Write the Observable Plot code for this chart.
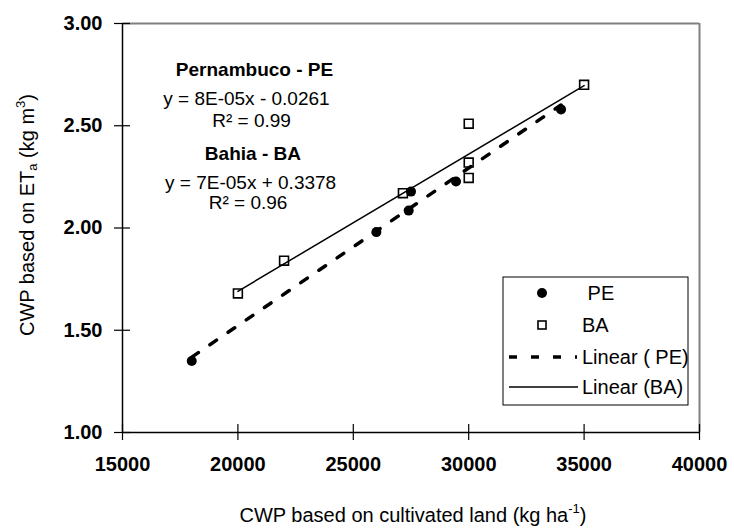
<!DOCTYPE html>
<html>
<head>
<meta charset="utf-8">
<script src="https://cdn.jsdelivr.net/npm/d3@7"></script>
<script src="https://cdn.jsdelivr.net/npm/@observablehq/plot@0.6"></script>
<style>
  html, body { margin: 0; padding: 0; background: #fff; }
  #chart { width: 734px; height: 531px; }
</style>
</head>
<body>
<div id="chart"></div>
<script>
// ---- Data ----
const peX = [18000, 26000, 27400, 27500, 29450, 34000];
const peY = [1.35, 1.98, 2.085, 2.178, 2.227, 2.58];
const baX = [20000, 22000, 27150, 30000, 30000, 30000, 35000];
const baY = [1.68, 1.84, 2.17, 2.51, 2.32, 2.245, 2.70];
const xTicks = [15000, 20000, 25000, 30000, 35000, 40000];
const yTicks = [1.0, 1.5, 2.0, 2.5, 3.0];
const annText = ["Pernambuco - PE", "y = 8E-05x - 0.0261", "R\u00B2 = 0.99", "Bahia - BA", "y = 7E-05x + 0.3378", "R\u00B2 = 0.96"];
const annX = [20720, 20370, 20590, 20650, 20550, 20440];
const annY = [2.775, 2.633, 2.526, 2.36, 2.222, 2.125];
const annBold = [true, false, false, true, false, false];
const legendLabels = [" PE", "BA", "Linear ( PE)", "Linear (BA)"];
const xTitle = ["CWP based on cultivated land (kg ha", "-1", ")"];
const yTitle = ["CWP based on ET", "a", " (kg m", "3", ")"];

const pe = peX.map((x, i) => ({x, y: peY[i]}));
const ba = baX.map((x, i) => ({x, y: baY[i]}));
const ann = annText.map((t, i) => ({t, x: annX[i], y: annY[i], bold: annBold[i]}));

const FONT = "'Liberation Sans', Arial, sans-serif";

const chart = Plot.plot({
  width: 734,
  height: 531,
  marginLeft: 122,
  marginRight: 35,
  marginTop: 23,
  marginBottom: 99,
  style: {fontFamily: FONT, background: "white", color: "black"},
  x: {domain: [15000, 40000], nice: false},
  y: {domain: [1, 3], nice: false},
  marks: [
    // frame
    Plot.ruleY([3], {stroke: "#808080", strokeWidth: 2}),
    Plot.ruleX([40000], {stroke: "#808080", strokeWidth: 2}),
    Plot.ruleX([15000], {stroke: "black", strokeWidth: 1.5}),
    Plot.ruleY([1], {stroke: "black", strokeWidth: 1.5}),
    // axes: crossing ticks + labels
    Plot.axisX(xTicks, {tickSize: 16, dy: -8, fill: "none", label: null, strokeWidth: 1.2}),
    Plot.axisX(xTicks, {tickSize: 0, tickPadding: 24, tickFormat: "d", fontSize: 20, fontWeight: "bold", label: null}),
    Plot.axisY(yTicks, {tickSize: 16, dx: 8, fill: "none", label: null, strokeWidth: 1.2}),
    Plot.axisY(yTicks, {tickSize: 0, tickPadding: 20, tickFormat: ".2f", fontSize: 20, fontWeight: "bold", label: null}),
    // trend lines
    Plot.linearRegressionY(pe, {x: "x", y: "y", ci: 0, stroke: "black", strokeWidth: 3.5, strokeDasharray: "8,14"}),
    Plot.linearRegressionY(ba, {x: "x", y: "y", ci: 0, stroke: "black", strokeWidth: 1.5}),
    // points
    Plot.dot(ba, {x: "x", y: "y", symbol: "square", r: 5, stroke: "black", strokeWidth: 1.6, fill: "none"}),
    Plot.dot(pe, {x: "x", y: "y", r: 5, fill: "black"}),
    // annotations
    Plot.text(ann, {x: "x", y: "y", text: "t", fontSize: 19, fill: "black"})
  ]
});

document.getElementById("chart").appendChild(chart);

const svg = d3.select(chart);
svg.selectAll("text").style("font-family", FONT);

// annotation bold styling
svg.selectAll("text").filter(function() { return annText.indexOf(this.textContent) >= 0; })
  .attr("font-weight", function() { const i = annText.indexOf(this.textContent); return annBold[i] ? "bold" : "normal"; });

// x title
const xt = svg.append("text")
  .attr("x", 413).attr("y", 515)
  .attr("text-anchor", "middle").attr("dominant-baseline", "central")
  .attr("font-size", 20).attr("font-family", FONT).attr("fill", "black");
xt.append("tspan").text(xTitle[0]);
xt.append("tspan").attr("dy", -7).attr("font-size", 13).text(xTitle[1]);
xt.append("tspan").attr("dy", 7).text(xTitle[2]);

// y title
const yt = svg.append("text")
  .attr("transform", "translate(27,215) rotate(-90)")
  .attr("text-anchor", "middle").attr("dominant-baseline", "central")
  .attr("font-size", 20).attr("font-family", FONT).attr("fill", "black");
yt.append("tspan").text(yTitle[0]);
yt.append("tspan").attr("dy", 5).attr("font-size", 13).text(yTitle[1]);
yt.append("tspan").attr("dy", -5).text(yTitle[2]);
yt.append("tspan").attr("dy", -7).attr("font-size", 13).text(yTitle[3]);
yt.append("tspan").attr("dy", 7).text(yTitle[4]);

// legend
const lg = svg.append("g").attr("font-family", FONT).attr("font-size", 20).attr("text-anchor", "start");
lg.append("rect").attr("x", 503).attr("y", 277).attr("width", 185).attr("height", 128)
  .attr("fill", "white").attr("stroke", "black").attr("stroke-width", 1);
const rowY = i => 293 + i * 32;
lg.append("circle").attr("cx", 542).attr("cy", rowY(0)).attr("r", 5).attr("fill", "black");
lg.append("rect").attr("x", 538).attr("y", rowY(1) - 4).attr("width", 8).attr("height", 8)
  .attr("fill", "none").attr("stroke", "black").attr("stroke-width", 1.6);
lg.append("line").attr("x1", 509).attr("x2", 577).attr("y1", rowY(2)).attr("y2", rowY(2))
  .attr("stroke", "black").attr("stroke-width", 3.5).attr("stroke-dasharray", "8,14");
lg.append("line").attr("x1", 509).attr("x2", 578).attr("y1", rowY(3) - 2).attr("y2", rowY(3) - 2)
  .attr("stroke", "black").attr("stroke-width", 1.5);
legendLabels.forEach((t, i) => {
  lg.append("text").attr("x", 582).attr("y", rowY(i) - (i === 3 ? 2 : 0))
    .attr("text-anchor", "start")
    .attr("dominant-baseline", "central").style("white-space", "pre").attr("fill", "black").text(t);
});
</script>
</body>
</html>
